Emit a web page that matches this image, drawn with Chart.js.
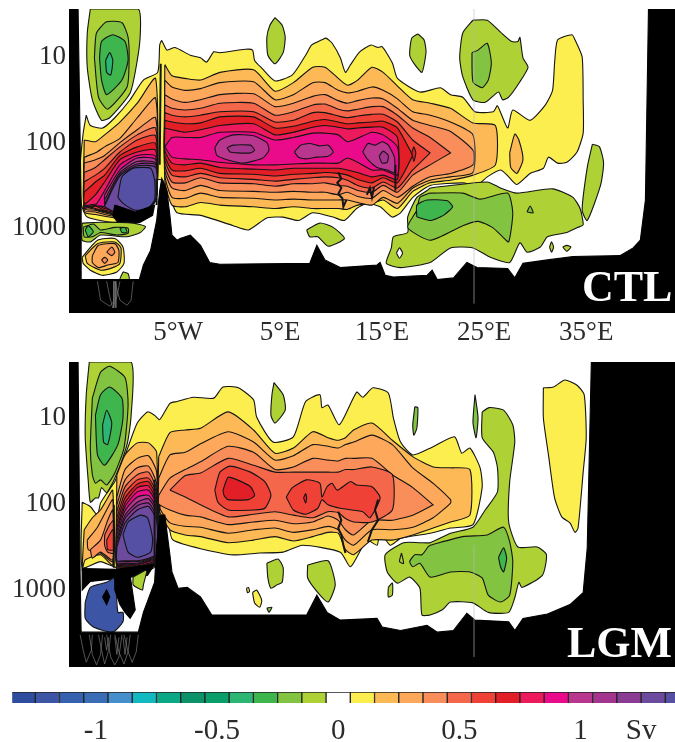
<!DOCTYPE html>
<html>
<head>
<meta charset="utf-8">
<title>CTL LGM</title>
<script src="https://cdn.jsdelivr.net/npm/chart.js@4"></script>
<style>
  html, body { margin: 0; background: #fff; overflow: hidden; }
  #page { position: relative; width: 675px; height: 742px; overflow: hidden; }
  canvas { position: absolute; left: 0; }
  .tag { position: absolute; font: bold 44px/44px "Liberation Serif", serif; color: #fff; }
</style>
</head>
<body>
<div id="page">
  <canvas id="ctlChart" width="675" height="350" style="top:0"></canvas>
  <canvas id="lgmChart" width="675" height="312" style="top:355px"></canvas>
  <canvas id="barChart" width="675" height="62" style="top:680px"></canvas>
  <div class="tag" style="left:582px;top:265px">CTL</div>
  <div class="tag" style="left:567px;top:621px">LGM</div>
</div>
<script>
// colour scale, one cell per 0.1 Sv
const levels = [-1.3,-1.2,-1.1,-1,-0.9,-0.8,-0.7,-0.6,-0.5,-0.4,-0.3,-0.2,-0.1,0,0.1,0.2,0.3,0.4,0.5,0.6,0.7,0.8,0.9,1,1.1,1.2,1.3,1.4]
const levelColors = ['#2f4d9e','#3c55a5','#3561ae','#3a6db5','#458fcd','#13b9c0','#0ba886','#0b9269','#0a9e6a','#2bb673','#3fb54d','#82c341','#aed136','#ffffff','#fcee4f','#fdb955','#fda85a','#f98e5a','#f4674a','#ef4136','#e21f26','#ec1a5c','#e90b8a','#b9368f','#a4358f','#8a3c94','#6c4a9d','#5550a3']
const barTicks = [-1, -0.5, 0, 0.5, 1, 1.25]
const lonTicks = [-5, 5, 15, 25, 35]
const lonLabels = ['5°W', '5°E', '15°E', '25°E', '35°E']
const depthTicks = [10, 100, 1000]

// all outlines are [longitude, log10(depth)]

// ---- CTL, Mediterranean bands: same longitudes, upper and lower edge per level
const ctlLon = [-6.3,-5.6,-4.3,-2.8,-0.9,2.4,4.5,6.3,8.2,9.4,10.7,11.6,12.6,14.0,15.1,16.5,18.0,19.7,21.7,23.9,26.1]
const ctlTop02 = [1.09,1.22,1.25,1.27,1.18,1.15,1.40,1.30,1.12,1.12,1.25,1.33,1.27,1.12,1.18,1.34,1.50,1.54,1.60,1.77,1.80]
const ctlBot02 = [2.44,2.73,2.75,2.70,2.73,2.75,2.77,2.75,2.77,2.77,2.77,2.78,2.73,2.71,2.67,2.77,2.57,2.47,2.44,2.38,2.26]
const ctlTop03 = [1.27,1.35,1.39,1.37,1.30,1.29,1.50,1.44,1.30,1.30,1.39,1.42,1.40,1.35,1.39,1.49,1.64,1.68,1.76,1.91]
const ctlBot03 = [2.38,2.64,2.65,2.59,2.64,2.65,2.67,2.66,2.67,2.67,2.67,2.67,2.70,2.73,2.64,2.71,2.53,2.44,2.40,2.35]
const ctlTop04 = [1.44,1.49,1.53,1.50,1.44,1.43,1.58,1.54,1.46,1.44,1.51,1.54,1.51,1.48,1.49,1.60,1.74,1.80,1.87,2.09]
const ctlBot04 = [2.32,2.53,2.56,2.50,2.56,2.57,2.58,2.57,2.58,2.58,2.61,2.58,2.63,2.65,2.56,2.64,2.51,2.40,2.36,2.26]
const ctlTop05 = [1.56,1.60,1.62,1.60,1.54,1.54,1.68,1.64,1.56,1.55,1.61,1.63,1.61,1.58,1.58,1.68,1.83,1.94,2.12]
const ctlBot05 = [2.26,2.46,2.47,2.41,2.47,2.48,2.51,2.48,2.48,2.47,2.50,2.51,2.56,2.58,2.50,2.58,2.38,2.26,2.12]
const ctlTop06 = [1.65,1.68,1.70,1.68,1.64,1.64,1.76,1.74,1.65,1.65,1.69,1.71,1.69,1.67,1.67,1.76,1.97,2.12]
const ctlBot06 = [2.20,2.38,2.40,2.36,2.41,2.43,2.45,2.43,2.41,2.40,2.41,2.44,2.50,2.53,2.46,2.53,2.32,2.12]
const ctlTop07 = [1.74,1.76,1.78,1.77,1.70,1.70,1.83,1.81,1.75,1.73,1.76,1.78,1.77,1.76,1.75,1.83,2.15]
const ctlBot07 = [2.15,2.32,2.33,2.30,2.36,2.37,2.39,2.37,2.36,2.35,2.36,2.38,2.43,2.47,2.41,2.47,2.15]
const ctlTop08 = [1.83,1.85,1.88,1.85,1.80,1.78,1.91,1.88,1.82,1.80,1.82,1.84,1.83,1.82,1.82,1.94]
const ctlBot08 = [2.09,2.24,2.26,2.24,2.29,2.31,2.32,2.30,2.30,2.30,2.30,2.32,2.35,2.40,2.38,2.43]
const ctlTop09 = [2.05,1.94,1.94,1.94,1.88,1.88,1.97,1.94,1.89,1.89,1.91,1.99,1.95,1.88,1.91,2.05]
const ctlBot09 = [2.05,2.17,2.19,2.20,2.23,2.26,2.26,2.25,2.24,2.24,2.24,2.18,2.23,2.32,2.32,2.38]

// ---- CTL, Atlantic side bands
const ctlWestLon = [-14.2,-13.1,-12.2,-10.7,-9.0,-7.2]
const ctlWestTop = [
  [1.97,1.99,1.91,1.76,1.54,1.25], [2.17,2.12,2.05,1.95,1.71,1.48], [2.24,2.20,2.15,2.00,1.85,1.71], [2.35,2.29,2.20,2.05,1.91,1.83],
  [2.46,2.38,2.30,2.11,1.97,1.92], [2.58,2.46,2.38,2.15,2.05,2.01], [2.73,2.61,2.46,2.20,2.11,2.09], [2.75,2.73,2.56,2.26,2.15,2.16]]
const ctlWestBot = [
  [2.81,2.84,2.86,2.89,2.88,2.67], [2.79,2.81,2.84,2.87,2.87,2.67], [2.77,2.79,2.82,2.86,2.86,2.67], [2.74,2.78,2.81,2.85,2.85,2.67],
  [2.72,2.77,2.80,2.84,2.84,2.67], [2.70,2.74,2.79,2.82,2.84,2.67], [2.74,2.72,2.77,2.81,2.82,2.67], [2.77,2.74,2.75,2.80,2.82,2.67]]
const ctlWestPinkLon = [-12.2,-10.7,-9.0,-7.2]
const ctlWestPinkTop = [[2.61,2.32,2.18,2.20],[2.67,2.35,2.22,2.24],[2.72,2.37,2.25,2.26],[2.74,2.39,2.27,2.29]]
const ctlWestPinkBot = [[2.67,2.80,2.82,2.67],[2.71,2.81,2.82,2.67],[2.73,2.82,2.84,2.67],[2.75,2.84,2.84,2.67]]

const ctlYellow = [[-14,1.68],[-13.6,1.8],[-12.4,1.83],[-11.2,1.71],[-9.7,1.5],[-8.4,1.27],[-7,1.18],[-6.8,.86],[-6.6,.81],[-6.1,.92],[-5.3,.89],[-3.8,.98],[-2.8,1.01],[-2.2,1.06],[-1.5,.94],[-.9,.95],[1.6,.91],[2.3,.92],[2.5,1.04],[3.2,1.13],[4.5,1.28],[6.2,1.21],[7.5,.98],[8.1,.86],[9.1,.8],[9.5,.78],[10.1,.84],[10.9,1.01],[11.4,1.18],[11.9,1.09],[12.8,.94],[13.9,.86],[14.6,.89],[15,.88],[16,1.07],[16.5,1.25],[18.7,1.41],[20.7,1.36],[21.7,1.44],[22.9,1.47],[24.1,1.64],[25.9,1.64],[26.3,1.57],[27.3,1.83],[27.8,1.62],[29.5,1.74],[31,1.56],[31.7,1.39],[31.9,1.07],[32.2,.8],[33.6,.74],[33.9,.8],[34.6,1],[34.7,1.5],[34.7,1.89],[34.1,2.11],[33.1,2.23],[32.2,2.24],[31.3,2.17],[30.8,2.3],[29.5,2.36],[28.2,2.49],[27.4,2.4],[26.6,2.32],[25.3,2.4],[24.3,2.5],[22.9,2.47],[19.7,2.5],[18,2.64],[16.8,2.82],[16,2.87],[14.8,2.75],[13.5,2.71],[12.5,2.77],[11.3,2.91],[10.2,2.87],[8.2,2.82],[6.8,2.91],[5.3,2.87],[3.7,2.88],[1.9,3.02],[.4,2.97],[-2.8,2.85],[-5.1,2.82],[-5.8,2.64],[-6.5,2.44],[-7.2,2.44],[-7.5,2.67],[-8,2.82],[-11,2.93],[-13.9,2.87],[-14.5,2.71],[-14.6,2.29],[-14.3,1.89]]
const ctlOval1 = [[-1.4,2.06],[-.9,1.97],[.4,1.91],[2.4,1.92],[3.7,2],[3.9,2.09],[3.3,2.18],[1.4,2.24],[-.2,2.2],[-1.2,2.15]]
const ctlOval1In = [[-.2,2.06],[.4,2.03],[2.1,2.03],[2.5,2.09],[2.1,2.12],[.8,2.12],[.1,2.11]]
const ctlOval2 = [[6.4,2.11],[7,2.03],[7.9,2.01],[8.9,2.04],[9.7,2.03],[10.2,2.11],[9.7,2.16],[8.6,2.17],[7.6,2.19],[6.8,2.17]]
const ctlOval3 = [[13.1,2.11],[13.6,2.01],[14.3,2.03],[15,1.99],[15.6,2.03],[16.2,2.17],[16.2,2.35],[15.5,2.32],[14.5,2.29],[13.6,2.2]]
const ctlOval3In = [[14.7,2.16],[15.1,2.1],[15.6,2.15],[15.5,2.23],[15,2.24]]
const ctlRedDot = [[17.9,2.12],[18.1,2.05],[18.3,2.12],[18.1,2.22]]
const ctlAtlCore = [[-10.9,2.64],[-10.5,2.4],[-9.4,2.3],[-7.7,2.3],[-7.3,2.44],[-7.3,2.67],[-8,2.77],[-9.2,2.79],[-10.4,2.71]]
const ctlOrangeEast = [[27.5,2.12],[28,1.9],[28.4,1.97],[28.8,2.2],[28.2,2.36],[27.6,2.29]]
const ctlSurfA = [[4.5,.54],[5.2,.63],[5.5,.77],[5.3,.95],[4.5,1.08],[3.8,.98],[3.7,.77],[4,.63]]
const ctlSurfB = [[18.5,.73],[19.1,.8],[19.3,.94],[18.9,1.18],[18.2,1.09],[17.7,.98],[17.9,.78]]
const ctlMidC = [[7.6,3.02],[8.9,2.94],[10.2,2.99],[11.3,3.12],[9.7,3.21],[8.7,3.1],[7.9,3.1]]
const ctlNeGyre = [[23.9,.57],[25.3,.57],[26.6,.71],[27.7,.82],[28.3,.82],[28.5,.77],[28.8,1.01],[29.3,1.12],[28.5,1.29],[27.4,1.47],[26.8,1.5],[26.4,1.41],[25.1,1.53],[23.9,1.5],[22.9,1.23],[22.6,1.01],[22.9,.72]]
const ctlNeGyreIn = [[23.8,.95],[24.4,.92],[25.3,.84],[25.7,1.07],[25.4,1.27],[24.8,1.36],[23.9,1.29]]
const ctlEastSliver = [[35.6,2.02],[36.3,2.05],[36.7,2.24],[36.4,2.5],[35.1,2.91],[34.6,2.79],[35.1,2.29]]
const ctlDeep1 = [[19.7,2.53],[25.3,2.46],[26.6,2.53],[28.2,2.59],[31.7,2.54],[33.7,2.64],[34.4,2.77],[34.7,2.96],[34.2,2.99],[33.1,3.05],[31.2,3.1],[30.5,3.22],[29.2,3.28],[28.5,3.17],[27.5,3.4],[25.6,3.34],[23.9,3.23],[21.7,3.23],[19.7,3.4],[16.8,3.46],[15.4,3.41],[15.9,3.23],[16.1,3.1],[17.5,3.05],[17.5,2.87],[18.4,2.64],[19.4,2.56]]
const ctlDeep2 = [[19.7,2.59],[22.9,2.59],[24.6,2.66],[27.3,2.59],[27.8,2.82],[27.4,3.16],[26.8,3.1],[25.8,2.99],[24.4,2.92],[22.9,2.97],[19.7,3.14],[17.5,2.99],[18.4,2.79],[18.7,2.64]]
const ctlDeep3 = [[18.4,2.87],[18.4,2.73],[19.4,2.67],[21.4,2.68],[21.9,2.75],[21,2.85],[19.7,2.91]]
const ctlDeepHole = [[16.4,3.29],[16.7,3.23],[17,3.29],[16.7,3.35]]
const ctlSpeck1 = [[31.4,3.22],[31.6,3.16],[31.8,3.22],[31.6,3.28]]
const ctlSpeck2 = [[32.7,3.22],[33.1,3.2],[33.5,3.22],[33.1,3.27]]
const ctlSpeck3 = [[29.2,2.81],[29.5,2.74],[29.8,2.82]]
const ctlGyre1 = [[-13.6,.44],[-8.9,.44],[-8.7,.72],[-9,1.04],[-9.7,1.42],[-11.7,1.71],[-12.5,1.74],[-13.4,1.5],[-13.9,1.12],[-13.9,.72]]
const ctlGyre2 = [[-13.2,1.01],[-13,.72],[-12,.59],[-10.5,.6],[-9.9,.77],[-9.8,1.04],[-10,1.35],[-11.9,1.61],[-12.8,1.47]]
const ctlGyre3 = [[-12.7,1.01],[-12.5,.82],[-11.4,.74],[-10.2,.82],[-9.9,1.04],[-10.5,1.27],[-12,1.44],[-12.5,1.27]]
const ctlGyre4 = [[-12.1,1.04],[-11.7,.95],[-11.4,1.04],[-11.6,1.21],[-12,1.18]]
const ctlBand1 = [[-14.4,2.94],[-12.6,2.93],[-9.4,2.94],[-8.2,2.98],[-8.7,3.05],[-10,3.1],[-12.6,3.08],[-13.6,3.16],[-14.4,3.14]]
const ctlBand2 = [[-14.3,2.99],[-13.3,2.95],[-12.6,3.02],[-11.2,2.99],[-9.9,3],[-9.9,3.06],[-11,3.08],[-12.6,3.05],[-13.4,3.1],[-14.2,3.1]]
const ctlBand3a = [[-14.1,3.02],[-13.8,2.97],[-13.3,3.04],[-13.8,3.1]]
const ctlBand3b = [[-10.7,3],[-10.2,2.99],[-10,3.05],[-10.5,3.05]]
const ctlLow1 = [[-14.4,3.34],[-12.9,3.14],[-11.2,3.12],[-10.4,3.22],[-10.3,3.41],[-11,3.51],[-12.4,3.55],[-13.6,3.49],[-14.3,3.41]]
const ctlLow2 = [[-14.1,3.32],[-12.9,3.18],[-11.2,3.16],[-10.6,3.23],[-10.7,3.41],[-11.4,3.46],[-12.6,3.49],[-13.9,3.41]]
const ctlLow3 = [[-13.4,3.32],[-12.8,3.2],[-11.2,3.18],[-10.8,3.26],[-10.9,3.4],[-11.9,3.43],[-12.8,3.46],[-13.4,3.4]]
const ctlLow4a = [[-12,3.28],[-11.5,3.22],[-11.2,3.28],[-11.5,3.32]]
const ctlLow4b = [[-12.5,3.37],[-12.2,3.34],[-11.9,3.37],[-12.2,3.41]]
const ctlLowGreen = [[-10.4,3.51],[-9.9,3.53],[-9.8,3.6],[-10.7,3.6]]
const ctlDense = [[-11.2,2.73],[-9.2,2.81],[-7.3,2.73],[-7.5,2.85],[-8.7,2.93],[-10.7,2.97],[-11.4,2.85]]
const ctlSea = [[-16,.44],[-14.8,.44],[-14.5,2.73],[-14.5,3.6],[-8.8,3.6],[-8.4,3.43],[-7.7,3.26],[-7.1,2.91],[-6.8,2.56],[-6.6,2.42],[-6.1,2.56],[-5.8,2.85],[-5.6,3.08],[-5.1,3.14],[-4.8,3.12],[-3.8,3.08],[-2.8,3.2],[-1.9,3.4],[-.9,3.42],[7.9,3.41],[8.6,3.2],[9.4,3.37],[10.9,3.46],[14.5,3.43],[14.8,3.4],[15.3,3.55],[16.1,3.57],[19.4,3.55],[19.9,3.49],[20.4,3.6],[22,3.58],[23.3,3.4],[24.3,3.46],[27.3,3.47],[28,3.58],[28.8,3.41],[31.2,3.37],[33.7,3.33],[38.3,3.32],[39.6,3.23],[40.3,3.14],[40.8,2.67],[41.1,.44],[45,.44],[45,4.1],[-16,4.1]]
const ctlWiggles = [
  [[10.7,2.35],[11,2.42],[10.6,2.47],[11,2.53],[10.7,2.6],[11.1,2.65],[11.2,2.75],[11.5,2.67]],
  [[13.5,2.61],[13.8,2.53],[14,2.64],[14.2,2.52]],
  [[16.3,2.26],[16.3,2.56]],
  [[-6.7,1.08],[-6.8,2.26]],
  [[-7.1,2.73],[-7.1,2.42]]]
const ctlRings = [
  [[-12.9,3.62],[-12.6,3.84],[-11.7,3.91],[-11.2,3.84],[-11.2,3.62]],
  [[-12,3.62],[-11.7,3.8],[-11.4,3.93],[-11,3.8],[-10.7,3.62]],
  [[-11.2,3.62],[-10.7,3.84],[-10,3.9],[-9.6,3.84],[-9.4,3.62]],
  [[-11.3,3.62],[-11.3,3.93]],
  [[-11.1,3.62],[-11.1,3.93]]]

// ---- LGM bands
const lgmLon = [-6.9,-5.8,-4.3,-2.8,-.1,2.4,4.5,6.3,8.2,9.7,10.7,11.4,12.2,14,16,18,20,21.7,23.6]
const lgmTop02 = [1.45,1.17,1.14,1.12,.93,1.14,1.41,1.35,1.16,1.23,1.26,1.23,1.14,1.06,1.26,1.45,1.57,1.58,1.6]
const lgmBot02 = [2.05,2.3,2.36,2.38,2.45,2.42,2.38,2.43,2.38,2.33,2.34,2.53,2.59,2.42,2.42,2.36,2.28,2.21,2.13]
const lgmTop03 = [1.7,1.43,1.4,1.3,1.16,1.28,1.49,1.44,1.31,1.33,1.35,1.31,1.28,1.2,1.31,1.58,1.76,1.95]
const lgmBot03 = [2.02,2.22,2.26,2.27,2.34,2.3,2.28,2.33,2.3,2.26,2.3,2.42,2.48,2.3,2.3,2.27,2.16,1.99]
const lgmTop04 = [1.9,1.7,1.6,1.51,1.33,1.4,1.6,1.57,1.47,1.49,1.5,1.47,1.47,1.47,1.66,1.81,2.01]
const lgmBot04 = [2,2.07,2.13,2.15,2.24,2.21,2.19,2.23,2.21,2.14,2.19,2.3,2.36,2.19,2.19,2.13,2.01]
const lgmTop05 = [1.84,1.67,1.64,1.47,1.55,1.63,1.63,1.63,1.63,1.63,1.6,1.6,1.57,1.66]
const lgmBot05 = [1.84,1.92,2.01,2.15,2.12,2.09,2.13,2.16,2.09,2.1,2.17,2.21,2.21,2.07]
const lgmRed1 = [[-1.4,1.84],[-.9,1.63],[.1,1.56],[2.1,1.63],[3.5,1.74],[4.1,1.9],[3.5,2.05],[2.5,2.07],[-.1,2.07],[-1.1,1.98]]
const lgmRed1In = [[-.6,1.84],[-.1,1.69],[.8,1.72],[2.1,1.8],[2.5,1.9],[1.9,1.95],[-.1,1.95],[-.5,1.9]]
const lgmRed2 = [[5.6,1.92],[6.2,1.81],[7.6,1.72],[8.9,1.76],[9.1,1.92],[9.6,1.8],[10.1,1.76],[10.6,1.84],[11.9,1.74],[12.5,1.78],[14,1.8],[14.8,1.93],[13.8,2.16],[13.1,2.09],[10.9,2.05],[9.7,2.01],[9.1,1.95],[8.7,2.05],[7.5,2.12],[6.3,2.07]]
const lgmRedDot = [[7.3,1.93],[7.5,1.88],[7.6,1.93],[7.5,1.99]]
const lgmYellow = [[-14.4,1.98],[-13.6,2.03],[-12.9,2.13],[-12.6,1.99],[-11.9,1.86],[-11.2,1.74],[-10,1.37],[-9,1.06],[-8,.93],[-7.3,.97],[-6.8,1.02],[-5.8,.83],[-5.1,.81],[-3.5,.76],[-1.5,.77],[-.6,.64],[.9,.65],[2.4,.79],[2.7,.99],[4.3,1.28],[6.3,1.22],[7.5,.81],[8.9,.73],[9.1,.88],[9.7,.85],[10.8,1.08],[12.5,.7],[13.1,.76],[14.1,.65],[15.6,.71],[16.1,1],[16.8,1.28],[18,1.43],[19.9,1.34],[22.1,1.22],[22.8,1.41],[23.6,1.35],[24.6,1.58],[24.8,1.81],[23.9,2.24],[21.7,2.28],[19.7,2.34],[16.8,2.4],[15.8,2.48],[14.8,2.33],[14.5,2.48],[13.5,2.42],[11.9,2.73],[10.9,2.56],[7.2,2.48],[5.3,2.56],[3,2.57],[.1,2.59],[-5.5,2.42],[-6,2.16],[-6.6,2.01],[-7.1,2.13],[-7.3,2.67],[-11,2.74],[-12.6,2.67],[-14.4,2.74]]
const lgmWest2 = [[-14.2,2.3],[-13.4,2.16],[-12.6,2.07],[-11.9,1.93],[-11.4,1.84],[-11.4,2.71],[-12.6,2.59],[-14.1,2.65],[-14.4,2.77]]
const lgmWest3 = [[-13.9,2.42],[-12.9,2.27],[-12,2.07],[-11.4,1.95],[-11.4,2.67],[-12.6,2.57],[-13.8,2.53]]
const lgmWest4 = [[-13.6,2.53],[-12.6,2.42],[-11.9,2.19],[-11.4,2.07],[-11.4,2.65],[-12.6,2.56],[-13.4,2.63]]
const lgmWest5 = [[-12.2,2.36],[-11.7,2.24],[-11.3,2.19],[-11.3,2.57],[-11.9,2.56],[-12.2,2.48]]
const lgmWest6 = [[-12,2.42],[-11.4,2.3],[-11.3,2.53],[-11.9,2.53]]
const lgmAtlLon = [-11,-10.2,-9,-7.9,-7.1]
const lgmAtlTop = [[1.66,1.43,1.29,1.29,1.4],[1.92,1.6,1.47,1.44,1.63],[2.01,1.72,1.58,1.56,1.77],[2.09,1.8,1.66,1.63,1.84],[2.16,1.87,1.72,1.7,1.88],[2.21,1.93,1.77,1.74,1.93],[2.27,1.99,1.81,1.79,1.98],[2.31,2.03,1.86,1.84,2.01],[2.36,2.08,1.92,1.9,2.06],[2.41,2.13,1.98,1.94,2.1],[2.45,2.17,2.02,1.99,2.15],[2.5,2.22,2.07,2.03,2.19]]
const lgmAtlBot = [[2.79,2.79,2.79,2.77,2.71],[2.78,2.78,2.78,2.74,2.71],[2.77,2.77,2.77,2.73,2.7],[2.76,2.76,2.76,2.72,2.69],[2.74,2.74,2.74,2.71,2.67],[2.73,2.73,2.73,2.7,2.66],[2.72,2.72,2.72,2.69,2.65],[2.71,2.71,2.71,2.67,2.64],[2.7,2.7,2.7,2.66,2.63],[2.69,2.69,2.69,2.65,2.62],[2.67,2.67,2.67,2.64,2.6],[2.66,2.66,2.66,2.63,2.59]]
const lgmAtlCore = [[-10.4,2.36],[-9.9,2.21],[-8.7,2.13],[-8,2.16],[-7.5,2.4],[-7.7,2.56],[-9,2.62],[-9.9,2.56]]
const lgmGyre1 = [[-13.7,.35],[-9.6,.35],[-9.6,.97],[-10,1.31],[-11.2,1.7],[-12,1.87],[-12.5,1.81],[-12.8,1.93],[-13.1,1.93],[-13.6,1.98],[-13.8,1.74],[-14.1,1.23],[-14,.73]]
const lgmGyre2 = [[-13.4,.77],[-12.6,.47],[-11.7,.4],[-10.2,.53],[-9.9,.85],[-10.3,1.35],[-11.2,1.64],[-12,1.78],[-12.6,1.72],[-13.1,1.76],[-13.4,1.66],[-13.6,1.35]]
const lgmGyre3 = [[-13.1,.97],[-12.6,.73],[-11.7,.64],[-10.5,.77],[-10.4,1],[-10.9,1.31],[-12.2,1.55],[-12.9,1.43]]
const lgmGyre4 = [[-12.4,1.08],[-12,.91],[-11.5,1.06],[-11.9,1.31],[-12.3,1.28]]
const lgmBlue = [[-14.1,3.14],[-13.6,2.97],[-12,2.91],[-11.2,2.86],[-10.9,3.26],[-10.4,3.26],[-10.4,3.37],[-11.4,3.49],[-13.3,3.43],[-14.1,3.33]]
const lgmDarkCol = [[-11.2,2.83],[-10.4,2.77],[-9.7,2.83],[-9.2,3.23],[-9.7,3.33],[-10.2,3.26],[-10.7,3.17],[-11.2,3]]
const lgmDarkDot = [[-12.4,3.08],[-12,3],[-11.7,3.08],[-12,3.17]]
const lgmDarkBand = [[-14.4,2.75],[-11,2.76],[-7.3,2.7],[-8,2.83],[-11.2,2.87],[-13.6,2.9],[-14.4,3]]
const lgmAtlPatch = [[-9.4,2.85],[-8.1,2.77],[-8.4,2.94],[-8.5,3],[-9.4,2.94]]
const lgmP1 = [[3.7,2.69],[4.8,2.64],[5.3,2.74],[5.2,2.91],[4.7,2.94],[4.1,2.98],[3.8,2.86]]
const lgmP2 = [[7.7,2.71],[9.7,2.66],[10.4,2.94],[9.7,3.14],[8.7,3.03],[7.7,2.86]]
const lgmY1 = [[1.7,2.98],[1.9,2.97],[2,3.02],[1.8,3.03]]
const lgmY2 = [[2.3,3.03],[2.7,3],[3.2,3.12],[3,3.2],[2.5,3.15]]
const lgmG3 = [[3.7,3.21],[4.2,3.2],[3.9,3.26]]
const lgmSurfA = [[4.4,.59],[5.3,.73],[5.5,.91],[4.5,1.06],[4.1,.97],[4.2,.73]]
const lgmSurfB = [[18.2,.87],[18.5,.88],[18.4,1.12],[18.1,1.2],[18,1.08]]
const lgmSurfC = [[24.1,.73],[24.4,1],[24.2,1.23],[23.9,1.05]]
const lgmEast1 = [[24.8,.93],[25.5,.88],[26.9,.91],[27.8,1.08],[28,1.28],[27.5,1.74],[27.4,2.21],[28.3,2.5],[30.2,2.5],[31.1,2.59],[30.7,2.83],[28.7,2.97],[28.4,2.91],[28,3.09],[27.4,3.26],[25.4,3.26],[23.9,3.15],[21.7,3.14],[20.9,3.23],[19.7,3.29],[18.9,3.29],[18.7,2.98],[17.7,2.85],[16.5,2.92],[15.5,2.79],[15.3,2.59],[17.1,2.45],[18.7,2.45],[19.7,2.45],[21.7,2.34],[23.9,2.27],[25.1,2.07],[26.3,1.86],[26.3,1.58],[25.9,1.4],[24.8,1.23]]
const lgmEast2 = [[19.7,2.48],[22.9,2.38],[25.3,2.36],[26.9,2.27],[27.5,2.44],[27.8,2.67],[27.5,3.06],[26.6,3.14],[25.4,3.06],[24.8,2.86],[23.6,2.79],[21.7,2.79],[19.7,2.85],[18.7,2.69],[18,2.73],[17.7,2.67],[18.2,2.59],[18.9,2.59],[19.5,2.5]]
const lgmEast3 = [[26.4,2.62],[26.9,2.51],[27.2,2.63],[26.9,2.79],[26.6,2.73]]
const lgmEastDot = [[16.9,2.57],[17.1,2.69],[16.7,2.67]]
const lgmEastPatch = [[15.6,2.97],[16,2.92],[16,3.06],[15.6,3.08]]
const lgmEastYellow = [[30.8,.65],[31.8,.64],[32.9,.56],[34.1,.62],[34.8,.73],[35,1.23],[34.7,1.63],[34.2,2.28],[33.9,2.33],[33.4,2.22],[32.6,2.15],[31.9,1.93],[31.3,1.43],[30.8,1]]
const lgmSea = [[-16,.35],[-14.8,.35],[-14.6,2.83],[-14.5,3.49],[-8.9,3.49],[-8.4,3.26],[-7.3,2.91],[-7.1,2.48],[-6.8,2.13],[-6.3,2.13],[-5.8,2.59],[-5.6,2.79],[-5,2.98],[-4.1,2.97],[-2.8,3.08],[-1.7,3.29],[7.6,3.29],[8.6,3.06],[9.6,3.26],[10.9,3.35],[14.5,3.33],[15,3.43],[16.8,3.47],[19.4,3.41],[20.4,3.49],[22,3.47],[23.3,3.27],[24.1,3.35],[27.4,3.37],[28,3.47],[28.8,3.33],[31.2,3.28],[33.4,3.17],[34.7,3.03],[35.1,2.51],[35.5,.35],[45,.35],[45,4.1],[-16,4.1]]
const lgmWiggles = [
  [[10.7,2.09],[11,2.19],[10.7,2.28],[11,2.36],[11.2,2.48],[11.4,2.57]],
  [[14.6,1.95],[14.3,2.07],[14.6,2.19],[14,2.3],[13.6,2.44]],
  [[-6.8,2.01],[-7,2.24]],
  [[-7.3,1.72],[-7.3,2.71]],
  [[-11.3,2.01],[-11.3,2.74]]]
const lgmRings = [
  [[-14.6,3.52],[-14.3,3.7],[-14,3.84],[-13.5,3.7],[-13.4,3.52]],
  [[-13.7,3.52],[-13.4,3.75],[-13,3.87],[-12.6,3.75],[-12.4,3.52]],
  [[-12.8,3.52],[-12.5,3.7],[-12.2,3.86],[-11.8,3.7],[-11.6,3.52]],
  [[-12,3.52],[-11.6,3.78],[-11.2,3.87],[-10.8,3.78],[-10.5,3.52]],
  [[-11.2,3.52],[-10.8,3.72],[-10.3,3.86],[-9.9,3.72],[-9.7,3.52]],
  [[-10.3,3.52],[-9.9,3.72],[-9.5,3.84],[-9.1,3.72],[-8.9,3.52]],
  [[-12.2,3.55],[-12,3.7],[-11.8,3.55]],
  [[-11.2,3.55],[-11,3.75],[-10.8,3.55]],
  [[-10.4,3.55],[-10.2,3.75],[-10,3.55]]]

function band(lons, top, bot) {
  const upper = top.map((z, i) => [lons[i], z])
  const lower = bot.map((z, i) => [lons[i], z]).reverse()
  return upper.concat(lower)
}

const ctlLayers = [
  [0.1, ctlYellow],
  [0.2, band(ctlLon, ctlTop02, ctlBot02)], [0.3, band(ctlLon, ctlTop03, ctlBot03)], [0.4, band(ctlLon, ctlTop04, ctlBot04)],
  [0.5, band(ctlLon, ctlTop05, ctlBot05)], [0.6, band(ctlLon, ctlTop06, ctlBot06)], [0.7, band(ctlLon, ctlTop07, ctlBot07)],
  [0.8, band(ctlLon, ctlTop08, ctlBot08)], [0.9, band(ctlLon, ctlTop09, ctlBot09)],
  [1, ctlOval1], [1.1, ctlOval1In], [1, ctlOval2], [1, ctlOval3], [1.1, ctlOval3In], [0.7, ctlRedDot], [0.2, ctlOrangeEast],
]
ctlWestTop.forEach((t, i) => ctlLayers.push([Number((0.2 + i * 0.1).toFixed(1)), band(ctlWestLon, t, ctlWestBot[i])]))
ctlWestPinkTop.forEach((t, i) => ctlLayers.push([Number((1 + i * 0.1).toFixed(1)), band(ctlWestPinkLon, t, ctlWestPinkBot[i])]))
ctlLayers.push(
  [1.4, ctlAtlCore], ['black', ctlDense],
  [-0.1, ctlSurfA], [-0.1, ctlSurfB], [-0.1, ctlMidC], [-0.1, ctlNeGyre], [-0.2, ctlNeGyreIn], [-0.1, ctlEastSliver],
  [-0.1, ctlDeep1], [-0.2, ctlDeep2], [-0.3, ctlDeep3], [0, ctlDeepHole], [-0.1, ctlSpeck1], [-0.1, ctlSpeck2], [-0.2, ctlSpeck3],
  [-0.1, ctlGyre1], [-0.2, ctlGyre2], [-0.3, ctlGyre3], [-0.4, ctlGyre4],
  [-0.1, ctlBand1], [-0.2, ctlBand2], [-0.3, ctlBand3a], [-0.3, ctlBand3b],
  [0.1, ctlLow1], [0.2, ctlLow2], [0.3, ctlLow3], [0.4, ctlLow4a], [0.4, ctlLow4b], [-0.1, ctlLowGreen],
  ['black', ctlSea])

const lgmLayers = [
  [0.1, lgmYellow],
  [0.2, band(lgmLon, lgmTop02, lgmBot02)], [0.3, band(lgmLon, lgmTop03, lgmBot03)], [0.4, band(lgmLon, lgmTop04, lgmBot04)],
  [0.5, band(lgmLon.slice(1), lgmTop05, lgmBot05)], [0.6, lgmRed1], [0.7, lgmRed1In], [0.6, lgmRed2], [0.7, lgmRedDot],
  [0.2, lgmWest2], [0.3, lgmWest3], [0.4, lgmWest4], [0.5, lgmWest5], [0.6, lgmWest6],
]
lgmAtlTop.forEach((t, i) => lgmLayers.push([Number((0.2 + i * 0.1).toFixed(1)), band(lgmAtlLon, t, lgmAtlBot[i])]))
lgmLayers.push(
  [1.4, lgmAtlCore], ['black', lgmDarkBand], [-1.2, lgmBlue], ['black', lgmDarkCol], ['black', lgmDarkDot], [-0.1, lgmAtlPatch],
  [-0.1, lgmGyre1], [-0.2, lgmGyre2], [-0.3, lgmGyre3], [-0.4, lgmGyre4],
  [-0.1, lgmP1], [-0.1, lgmP2], [0.1, lgmY1], [0.1, lgmY2], [-0.2, lgmG3], [-0.1, lgmSurfA], [-0.2, lgmSurfB], [-0.2, lgmSurfC],
  [-0.1, lgmEast1], [-0.2, lgmEast2], [-0.3, lgmEast3], [-0.1, lgmEastDot], [-0.1, lgmEastPatch], [0.1, lgmEastYellow],
  ['black', lgmSea])

function toPoints(pts) {
  return pts.map(p => ({ x: p[0], y: Math.pow(10, p[1]) }))
}

function layerDataset(layer) {
  const pts = toPoints(layer[1])
  pts.push(pts[0])
  const isBlack = layer[0] === 'black'
  const color = isBlack ? '#000000' : levelColors[levels.indexOf(layer[0])]
  return { data: pts, showLine: true, fill: 'shape', backgroundColor: color, borderColor: isBlack ? '#000000' : '#141414', borderWidth: 1.1, pointRadius: 0, tension: isBlack ? 0 : 0.2 }
}

function lineDataset(pts, color, width) {
  return { data: toPoints(pts), showLine: true, fill: false, borderColor: color, borderWidth: width, pointRadius: 0, tension: 0 }
}

// chart.js paints the first dataset last, so order has to run the other way
function stackOrder(list) {
  list.forEach((d, i) => { d.order = list.length - i })
  return list
}

function panelOptions(top, logMin, logMax, showLon) {
  return {
    responsive: false,
    animation: false,
    layout: { padding: { top: top, left: 0, right: 0, bottom: 0 } },
    plugins: { legend: { display: false }, tooltip: { enabled: false } },
    scales: {
      x: {
        type: 'linear', min: -15.69, max: 43.7, display: showLon,
        grid: { display: false, drawTicks: false }, border: { display: false },
        afterBuildTicks: s => { s.ticks = lonTicks.map(v => ({ value: v })) },
        afterFit: s => { if (showLon) s.height = 37; s.paddingLeft = 0; s.paddingRight = 0 },
        ticks: {
          autoSkip: false, maxRotation: 0, padding: 4, color: '#2b2b2b',
          font: { family: '"Liberation Serif", serif', size: 27 },
          callback: (v, i) => lonLabels[i],
        },
      },
      y: {
        type: 'logarithmic', reverse: true, min: Math.pow(10, logMin), max: Math.pow(10, logMax),
        grid: { display: false, drawTicks: false }, border: { display: false },
        afterBuildTicks: s => { s.ticks = depthTicks.map(v => ({ value: v })) },
        afterFit: s => { s.width = 69; s.paddingTop = 0; s.paddingBottom = 0 },
        ticks: {
          autoSkip: false, padding: 3, color: '#2b2b2b',
          font: { family: '"Liberation Serif", serif', size: 27 },
          callback: v => String(v),
        },
      },
    },
  }
}

const ctlSets = ctlLayers.map(layerDataset)
ctlWiggles.forEach(w => ctlSets.push(lineDataset(w, '#141414', 2)))
ctlRings.forEach(r => ctlSets.push(lineDataset(r, '#777777', 0.7)))
ctlSets.push(lineDataset([[24, .44], [24, 3.88]], 'rgba(190,190,190,0.35)', 0.7))

const lgmSets = lgmLayers.map(layerDataset)
lgmWiggles.forEach(w => lgmSets.push(lineDataset(w, '#141414', 2)))
lgmRings.forEach(r => lgmSets.push(lineDataset(r, '#777777', 0.7)))
lgmSets.push(lineDataset([[24, 2.48], [24, 3.78]], 'rgba(190,190,190,0.35)', 0.7))

new Chart(document.getElementById('ctlChart'), {
  type: 'scatter',
  data: { datasets: stackOrder(ctlSets) },
  options: panelOptions(9, 0.44, 3.99, true),
})

new Chart(document.getElementById('lgmChart'), {
  type: 'scatter',
  data: { datasets: stackOrder(lgmSets) },
  options: panelOptions(7, 0.35, 3.895, false),
})

new Chart(document.getElementById('barChart'), {
  type: 'bar',
  data: {
    datasets: [{
      data: levels.map(l => ({ x: l, y: 1 })),
      backgroundColor: levelColors,
      borderColor: '#222222',
      borderWidth: 1,
      barPercentage: 1,
      categoryPercentage: 1,
    }],
  },
  options: {
    responsive: false,
    animation: false,
    layout: { padding: { top: 12, left: 12.3, right: 0, bottom: 0 } },
    plugins: { legend: { display: false }, tooltip: { enabled: false } },
    scales: {
      x: {
        type: 'linear', min: -1.345, max: 1.39, offset: false,
        grid: { display: false, drawTicks: false }, border: { display: false },
        afterBuildTicks: s => { s.ticks = barTicks.map(v => ({ value: v })) },
        afterFit: s => { s.height = 39 },
        ticks: {
          autoSkip: false, maxRotation: 0, padding: 11, color: '#2b2b2b',
          font: { family: '"Liberation Serif", serif', size: 29 },
          callback: v => (v === 1.25 ? 'Sv' : String(v)),
        },
      },
      y: { display: false, min: 0, max: 1 },
    },
  },
})
</script>
</body>
</html>
